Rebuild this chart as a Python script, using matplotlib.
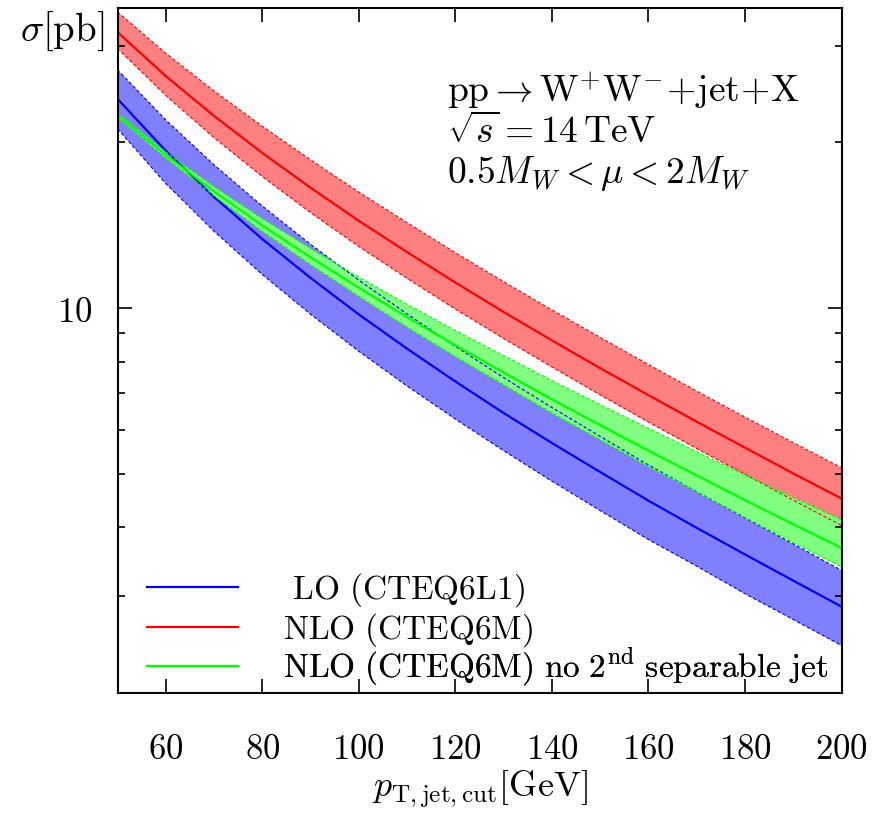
import matplotlib
matplotlib.use("Agg")
import matplotlib.pyplot as plt
from matplotlib.ticker import NullFormatter, FixedLocator

plt.rcParams['mathtext.fontset'] = 'cm'
plt.rcParams['font.family'] = ['DejaVu Serif']

# pT cut values [GeV]
pt = [50, 60, 70, 80, 90, 100, 110, 120, 130, 140, 150, 160, 170, 180, 190, 200]

# LO (CTEQ6L1)
lo_central = [24.0, 19.31, 15.92, 13.35, 11.35, 9.74, 8.44, 7.36, 6.45, 5.69, 5.04, 4.47, 3.99, 3.57, 3.20, 2.87]
lo_upper   = [27.10, 21.97, 18.21, 15.33, 13.06, 11.24, 9.76, 8.52, 7.48, 6.60, 5.85, 5.19, 4.64, 4.16, 3.73, 3.34]
lo_lower   = [21.17, 16.84, 13.79, 11.51, 9.75, 8.35, 7.22, 6.29, 5.51, 4.85, 4.29, 3.80, 3.40, 3.03, 2.72, 2.44]

# NLO (CTEQ6M)
nlo_central = [31.72, 26.40, 22.34, 19.14, 16.55, 14.41, 12.64, 11.13, 9.84, 8.74, 7.78, 6.95, 6.22, 5.58, 5.01, 4.51]
nlo_upper   = [34.51, 29.04, 24.80, 21.40, 18.60, 16.25, 14.30, 12.61, 11.17, 9.93, 8.85, 7.90, 7.07, 6.34, 5.70, 5.13]
nlo_lower   = [29.63, 24.34, 20.40, 17.34, 14.91, 12.94, 11.33, 9.96, 8.81, 7.82, 6.96, 6.21, 5.56, 4.99, 4.48, 4.03]

# NLO (CTEQ6M), no 2nd separable jet
veto_central = [22.43, 18.98, 16.29, 14.13, 12.37, 10.89, 9.63, 8.56, 7.64, 6.83, 6.13, 5.51, 4.97, 4.48, 4.05, 3.67]
veto_upper   = [22.61, 19.21, 16.62, 14.55, 12.84, 11.39, 10.16, 9.11, 8.20, 7.39, 6.68, 6.05, 5.49, 4.98, 4.53, 4.13]
veto_lower   = [22.25, 18.75, 16.00, 13.79, 12.00, 10.51, 9.24, 8.17, 7.26, 6.45, 5.77, 5.16, 4.64, 4.17, 3.75, 3.39]

labels = [r'$\mathrm{\ LO\ (CTEQ6L1)}$',
          r'$\mathrm{NLO\ (CTEQ6M)}$',
          r'$\mathrm{NLO\ (CTEQ6M)\ no\ 2^{nd}\ separable\ jet}$']

xticks = [60, 80, 100, 120, 140, 160, 180, 200]
yticks = [10]
yminor = [2, 3, 4, 5, 6, 7, 8, 9, 20, 30]

fig = plt.figure(figsize=(8.89, 8.13), dpi=100)
ax = fig.add_axes([0.1322, 0.1476, 0.8144, 0.8426])

series = [
    (lo_central, lo_upper, lo_lower, '#0000ff', '#8080ff'),
    (nlo_central, nlo_upper, nlo_lower, '#ff0000', '#ff8080'),
    (veto_central, veto_upper, veto_lower, '#00ff00', '#80ff80'),
]
handles = []
for (c, u, l, col, fcol), lab in zip(series, labels):
    ax.fill_between(pt, l, u, color=fcol, lw=0)
    ax.plot(pt, u, color=col, lw=0.8, ls=(0, (3, 2)))
    ax.plot(pt, l, color=col, lw=0.8, ls=(0, (3, 2)))
    h, = ax.plot(pt, c, color=col, lw=1.6, label=lab)
    handles.append(h)

ax.set_yscale('log')
ax.set_xlim(50, 200)
ax.set_ylim(2.0, 35.1)

ax.set_xticks(xticks, labels=[f'${v}$' for v in xticks])
ax.yaxis.set_major_locator(FixedLocator(yticks))
ax.set_yticklabels([f'${v}$' for v in yticks])
ax.yaxis.set_minor_locator(FixedLocator(yminor))
ax.yaxis.set_minor_formatter(NullFormatter())

ax.tick_params(which='both', direction='in', top=True, right=True, width=1.2)
ax.tick_params(which='major', length=10, labelsize=25)
ax.tick_params(axis='x', which='major', pad=28)
ax.tick_params(axis='y', which='major', pad=18)
ax.tick_params(which='minor', length=5)
for s in ax.spines.values():
    s.set_linewidth(1.5)

ax.set_xlabel(r'$p_{\mathrm{T,jet,cut}}[\mathrm{GeV}]$', fontsize=26, labelpad=2)
fig.text(0.022, 0.962, r'$\sigma[\mathrm{pb}]$', fontsize=28, ha='left', va='center')

ax.text(0.455, 0.863, r'$\mathrm{pp}\rightarrow\mathrm{W}^{+}\mathrm{W}^{-}\!+\!\mathrm{jet}\!+\!\mathrm{X}$',
        transform=ax.transAxes, fontsize=27, ha='left', va='baseline')
ax.text(0.455, 0.803, r'$\sqrt{s}=14\,\mathrm{TeV}$',
        transform=ax.transAxes, fontsize=27, ha='left', va='baseline')
ax.text(0.455, 0.7445, r'$0.5M_W<\mu<2M_W$',
        transform=ax.transAxes, fontsize=27, ha='left', va='baseline')

# one legend per row so that the rows are evenly spaced as in the reference
row_y = [0.1504, 0.0920, 0.0380]
for h, lab, y in zip(handles, labels, row_y):
    lg = ax.legend(handles=[h], labels=[lab], loc='center left',
                   bbox_to_anchor=(0.0407, y), frameon=False, fontsize=24,
                   handlelength=2.73, handletextpad=1.35,
                   borderaxespad=0.0, borderpad=0.0)
    ax.add_artist(lg)

fig.savefig('out.png', dpi=100)
